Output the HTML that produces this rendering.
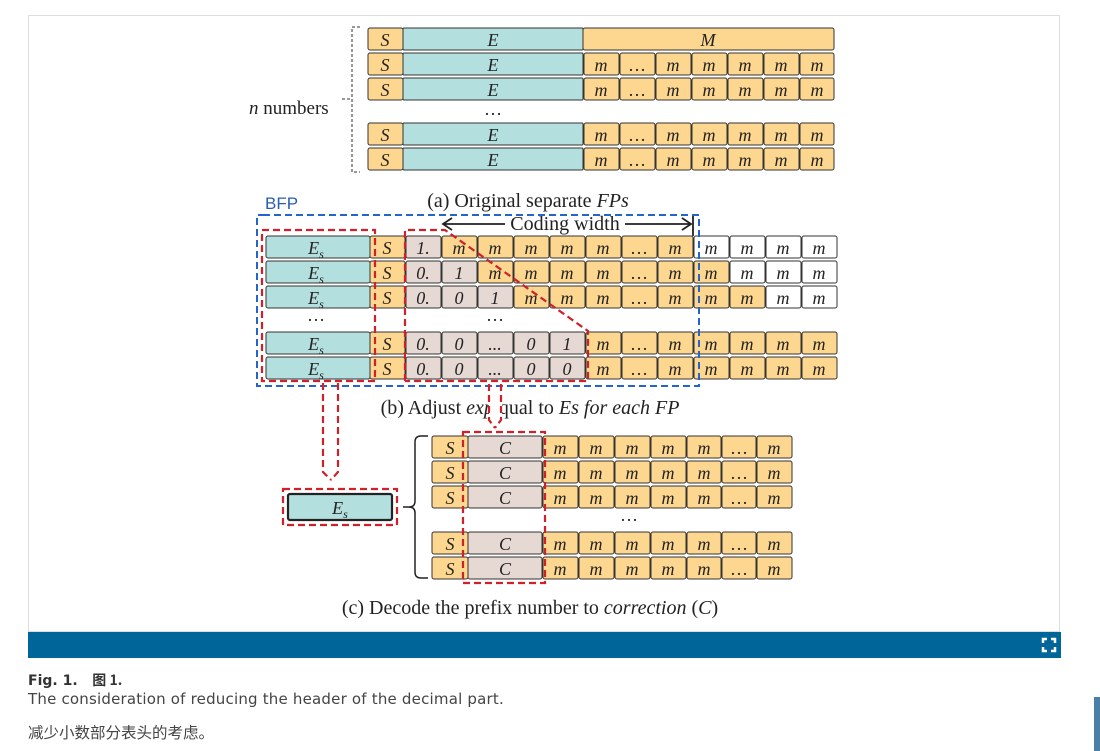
<!DOCTYPE html>
<html><head><meta charset="utf-8"><style>
html,body{margin:0;padding:0;background:#fff;width:1100px;height:751px;overflow:hidden;font-family:"DejaVu Sans",Verdana,sans-serif}
.fig{position:absolute;left:28px;top:15px;width:1032px;height:617px;border:1px solid #ddd;box-sizing:border-box}
.bar{position:absolute;left:28px;top:632px;width:1033px;height:26px;background:#006699}
.t1{position:absolute;left:28px;top:670px;font-size:14px;font-weight:bold;color:#333}
.t2{position:absolute;left:28px;top:690px;font-size:15px;color:#444;letter-spacing:0.2px}
.t3{position:absolute;left:28px;top:721px;font-size:15.5px;color:#444;font-family:"Noto Sans CJK SC",sans-serif}
.side{position:absolute;left:1094px;top:697px;width:6px;height:54px;background:#4a7fa8}
svg{position:absolute;left:0;top:0}
text{font-family:"Liberation Serif",serif;font-size:18px;fill:#222}
.cap{font-size:20px}
.i{font-style:italic}
.y{fill:#fdd78f;stroke:#333;stroke-width:1}
.c{fill:#b3e0de;stroke:#333;stroke-width:1}
.g{fill:#e6d8d2;stroke:#333;stroke-width:1}
.w{fill:#fff;stroke:#333;stroke-width:1}
.rd{fill:none;stroke:#d0202a;stroke-width:2.2;stroke-dasharray:7,4}
.bd{fill:none;stroke:#2266cc;stroke-width:2;stroke-dasharray:7,4}
</style></head><body>
<div class="fig"></div>
<div class="bar"><svg width="16" height="16" style="left:1013px;top:5px"><path d="M2 6V2H6M10 2H14V6M14 10V14H10M6 14H2V10" stroke="#fff" stroke-width="2.5" fill="none"/></svg></div>
<div class="t1">Fig. 1.&nbsp;&nbsp; <span style="font-family:'Noto Sans CJK SC',sans-serif">图 1.</span></div>
<div class="t2">The consideration of reducing the header of the decimal part.</div>
<div class="t3">减少小数部分表头的考虑。</div>
<div class="side"></div>
<svg width="1100" height="632" viewBox="0 0 1100 632">
<!-- (a) -->
<path d="M360 27H352V172H360M342 99H352" fill="none" stroke="#333" stroke-dasharray="3,2"/>
<text x="249" y="114" class="cap" style="font-size:19px"><tspan class="i">n</tspan> numbers</text>
<g text-anchor="middle">
<rect class="y" x="368" y="28" width="35" height="22" rx="2"/><text class="i" x="385" y="46">S</text>
<rect class="c" x="403" y="28" width="180" height="22" rx="1"/><text class="i" x="493" y="46">E</text>
<rect class="y" x="583" y="28" width="251" height="22" rx="2"/><text class="i" x="708" y="46">M</text>
<g id="ra">
<rect class="y" x="368" y="53" width="35" height="22" rx="2"/><text class="i" x="385" y="71">S</text>
<rect class="c" x="403" y="53" width="180" height="22" rx="1"/><text class="i" x="493" y="71">E</text>
<rect class="y" x="584" y="53" width="35" height="22" rx="2"/><text class="i" x="601" y="71">m</text>
<rect class="y" x="620" y="53" width="35" height="22" rx="2"/><text x="637" y="71">…</text>
<rect class="y" x="656" y="53" width="35" height="22" rx="2"/><text class="i" x="673" y="71">m</text>
<rect class="y" x="692" y="53" width="35" height="22" rx="2"/><text class="i" x="709" y="71">m</text>
<rect class="y" x="728" y="53" width="35" height="22" rx="2"/><text class="i" x="745" y="71">m</text>
<rect class="y" x="764" y="53" width="35" height="22" rx="2"/><text class="i" x="781" y="71">m</text>
<rect class="y" x="800" y="53" width="34" height="22" rx="2"/><text class="i" x="817" y="71">m</text>
</g>
<use href="#ra" y="25"/><use href="#ra" y="70"/><use href="#ra" y="95"/>
<text x="493" y="115">…</text>
<text class="cap" x="528" y="207">(a) Original separate <tspan class="i">FPs</tspan></text>
</g>
<!-- (b) -->
<text x="265" y="209" style="fill:#2a5db0;font-family:'Liberation Sans',sans-serif;font-size:17px">BFP</text>
<g text-anchor="middle">
<text class="cap" x="565" y="230">Coding width</text>
<path d="M444 224H505M625 224H690M452 218L443 224L452 230M682 218L691 224L682 230M693 215V236" fill="none" stroke="#222" stroke-width="1.8"/>
<g id="rb1">
<rect class="c" x="266" y="236" width="104" height="22" rx="2"/><text class="i" x="316" y="254">E<tspan font-size="12" dy="4">s</tspan></text>
<rect class="y" x="370" y="236" width="35" height="22" rx="2"/><text class="i" x="387" y="254">S</text>
</g>
<use href="#rb1" y="25"/><use href="#rb1" y="50"/><use href="#rb1" y="96"/><use href="#rb1" y="121"/>
<!-- row1 -->
<rect class="g" x="406" y="236" width="35" height="22" rx="2"/><text class="i" x="423" y="254">1.</text>
<rect class="y" x="442" y="236" width="35" height="22" rx="2"/><text class="i" x="459" y="254">m</text>
<rect class="y" x="478" y="236" width="35" height="22" rx="2"/><text class="i" x="495" y="254">m</text>
<rect class="y" x="514" y="236" width="35" height="22" rx="2"/><text class="i" x="531" y="254">m</text>
<rect class="y" x="550" y="236" width="35" height="22" rx="2"/><text class="i" x="567" y="254">m</text>
<rect class="y" x="586" y="236" width="35" height="22" rx="2"/><text class="i" x="603" y="254">m</text>
<rect class="y" x="622" y="236" width="35" height="22" rx="2"/><text x="639" y="254">…</text>
<rect class="y" x="658" y="236" width="35" height="22" rx="2"/><text class="i" x="675" y="254">m</text>
<rect class="w" x="694" y="236" width="35" height="22" rx="2"/><text class="i" x="711" y="254">m</text>
<rect class="w" x="730" y="236" width="35" height="22" rx="2"/><text class="i" x="747" y="254">m</text>
<rect class="w" x="766" y="236" width="35" height="22" rx="2"/><text class="i" x="783" y="254">m</text>
<rect class="w" x="802" y="236" width="35" height="22" rx="2"/><text class="i" x="819" y="254">m</text>
<!-- row2 -->
<rect class="g" x="406" y="261" width="35" height="22" rx="2"/><text class="i" x="423" y="279">0.</text>
<rect class="g" x="442" y="261" width="35" height="22" rx="2"/><text class="i" x="459" y="279">1</text>
<rect class="y" x="478" y="261" width="35" height="22" rx="2"/><text class="i" x="495" y="279">m</text>
<rect class="y" x="514" y="261" width="35" height="22" rx="2"/><text class="i" x="531" y="279">m</text>
<rect class="y" x="550" y="261" width="35" height="22" rx="2"/><text class="i" x="567" y="279">m</text>
<rect class="y" x="586" y="261" width="35" height="22" rx="2"/><text class="i" x="603" y="279">m</text>
<rect class="y" x="622" y="261" width="35" height="22" rx="2"/><text x="639" y="279">…</text>
<rect class="y" x="658" y="261" width="35" height="22" rx="2"/><text class="i" x="675" y="279">m</text>
<rect class="y" x="694" y="261" width="35" height="22" rx="2"/><text class="i" x="711" y="279">m</text>
<rect class="w" x="730" y="261" width="35" height="22" rx="2"/><text class="i" x="747" y="279">m</text>
<rect class="w" x="766" y="261" width="35" height="22" rx="2"/><text class="i" x="783" y="279">m</text>
<rect class="w" x="802" y="261" width="35" height="22" rx="2"/><text class="i" x="819" y="279">m</text>
<!-- row3 -->
<rect class="g" x="406" y="286" width="35" height="22" rx="2"/><text class="i" x="423" y="304">0.</text>
<rect class="g" x="442" y="286" width="35" height="22" rx="2"/><text class="i" x="459" y="304">0</text>
<rect class="g" x="478" y="286" width="35" height="22" rx="2"/><text class="i" x="495" y="304">1</text>
<rect class="y" x="514" y="286" width="35" height="22" rx="2"/><text class="i" x="531" y="304">m</text>
<rect class="y" x="550" y="286" width="35" height="22" rx="2"/><text class="i" x="567" y="304">m</text>
<rect class="y" x="586" y="286" width="35" height="22" rx="2"/><text class="i" x="603" y="304">m</text>
<rect class="y" x="622" y="286" width="35" height="22" rx="2"/><text x="639" y="304">…</text>
<rect class="y" x="658" y="286" width="35" height="22" rx="2"/><text class="i" x="675" y="304">m</text>
<rect class="y" x="694" y="286" width="35" height="22" rx="2"/><text class="i" x="711" y="304">m</text>
<rect class="y" x="730" y="286" width="35" height="22" rx="2"/><text class="i" x="747" y="304">m</text>
<rect class="w" x="766" y="286" width="35" height="22" rx="2"/><text class="i" x="783" y="304">m</text>
<rect class="w" x="802" y="286" width="35" height="22" rx="2"/><text class="i" x="819" y="304">m</text>
<text x="316" y="321">…</text><text x="495" y="321">…</text>
<!-- row4/5 -->
<g id="rb4">
<rect class="g" x="406" y="332" width="35" height="22" rx="2"/><text class="i" x="423" y="350">0.</text>
<rect class="g" x="442" y="332" width="35" height="22" rx="2"/><text class="i" x="459" y="350">0</text>
<rect class="g" x="478" y="332" width="35" height="22" rx="2"/><text class="i" x="495" y="350">...</text>
<rect class="g" x="514" y="332" width="35" height="22" rx="2"/><text class="i" x="531" y="350">0</text>
<rect class="y" x="586" y="332" width="35" height="22" rx="2"/><text class="i" x="603" y="350">m</text>
<rect class="y" x="622" y="332" width="35" height="22" rx="2"/><text x="639" y="350">…</text>
<rect class="y" x="658" y="332" width="35" height="22" rx="2"/><text class="i" x="675" y="350">m</text>
<rect class="y" x="694" y="332" width="35" height="22" rx="2"/><text class="i" x="711" y="350">m</text>
<rect class="y" x="730" y="332" width="35" height="22" rx="2"/><text class="i" x="747" y="350">m</text>
<rect class="y" x="766" y="332" width="35" height="22" rx="2"/><text class="i" x="783" y="350">m</text>
<rect class="y" x="802" y="332" width="35" height="22" rx="2"/><text class="i" x="819" y="350">m</text>
<rect class="g" x="550" y="332" width="35" height="22" rx="2"/>
</g>
<use href="#rb4" y="25"/>
<text class="i" x="567" y="350">1</text><text class="i" x="567" y="375">0</text>
<text class="cap" x="530" y="414">(b) Adjust <tspan class="i">exp</tspan>    qual to <tspan class="i">Es for each FP</tspan></text>
</g>
<rect x="489" y="397" width="13" height="22" fill="#fff"/>
<path class="bd" d="M263 215H699V386H257V215Z"/>
<path class="rd" d="M262 230H375V381H262Z"/>
<path class="rd" d="M405 381V230H445L588 331V381H405"/>
<path class="rd" d="M323 383V472L331 480M338 383V472L331 480"/>
<path class="rd" d="M489 384V420L495 428M501 384V420L495 428"/>
<!-- (c) -->
<rect x="288" y="494" width="104" height="26" rx="2" fill="#b3e0de" stroke="#222" stroke-width="2.2"/>
<text class="i" x="340" y="514" text-anchor="middle">E<tspan font-size="12" dy="4">s</tspan></text>
<path class="rd" d="M283 489H397V525H283Z"/>
<path d="M428 436H421Q415 436 415 442V501Q415 507 409 507H403M409 507Q415 507 415 513V572Q415 578 421 578H428" fill="none" stroke="#222" stroke-width="1.5"/>
<g text-anchor="middle">
<g id="rc">
<rect class="y" x="432" y="436" width="36" height="22" rx="2"/><text class="i" x="450" y="454">S</text>
<rect class="g" x="468" y="436" width="74" height="22" rx="2"/><text class="i" x="505" y="454">C</text>
<rect class="y" x="543" y="436" width="35" height="22" rx="2"/><text class="i" x="560" y="454">m</text>
<rect class="y" x="579" y="436" width="35" height="22" rx="2"/><text class="i" x="596" y="454">m</text>
<rect class="y" x="615" y="436" width="35" height="22" rx="2"/><text class="i" x="632" y="454">m</text>
<rect class="y" x="651" y="436" width="35" height="22" rx="2"/><text class="i" x="668" y="454">m</text>
<rect class="y" x="687" y="436" width="34" height="22" rx="2"/><text class="i" x="704" y="454">m</text>
<rect class="y" x="722" y="436" width="34" height="22" rx="2"/><text x="739" y="454">…</text>
<rect class="y" x="757" y="436" width="35" height="22" rx="2"/><text class="i" x="774" y="454">m</text>
</g>
<use href="#rc" y="25"/><use href="#rc" y="50"/><use href="#rc" y="96"/><use href="#rc" y="121"/>
<text x="629" y="521">…</text>
<text class="cap" x="530" y="614">(c) Decode the prefix number to <tspan class="i">correction</tspan> (<tspan class="i">C</tspan>)</text>
</g>
<path class="rd" d="M463 432H545V583H463Z"/>
</svg>
</body></html>
